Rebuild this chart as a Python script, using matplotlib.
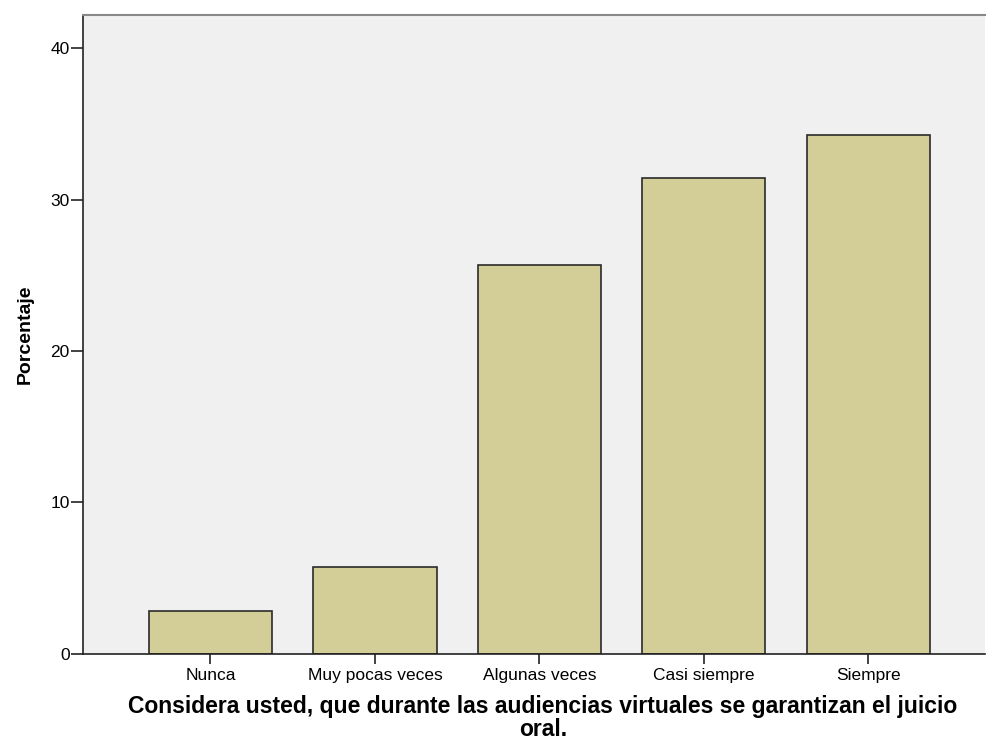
import matplotlib
matplotlib.use("Agg")
from matplotlib import pyplot as plt
import numpy as np

plt.rcParams['font.family'] = ['Liberation Sans', 'DejaVu Sans']

categorias = ["Nunca", "Muy pocas veces", "Algunas veces", "Casi siempre", "Siempre"]
porcentajes = [2.86, 5.71, 25.71, 31.43, 34.29]
yticks = [0, 10, 20, 30, 40]

fig = plt.figure(figsize=(9.88, 7.49), dpi=100)
ax = fig.add_axes([0.084, 0.127, 0.913, 0.853])
ax.set_facecolor('#F0F0F0')

x = np.arange(len(categorias))
ax.bar(x, porcentajes, width=0.75, color='#D3CE97', edgecolor='#2a2a2a', linewidth=1.2, zorder=2)

ax.set_xlim(-0.775, 4.71)
ax.set_ylim(0, 42.2)
ax.set_yticks(yticks)
ax.set_xticks(x)
ax.set_xticklabels(categorias, fontsize=12.5)
ax.tick_params(axis='y', labelsize=12.5, length=8.5, width=1.2, color='#222222', pad=1)
ax.tick_params(axis='x', length=7.5, width=1.2, color='#222222', pad=2.5)

for s in ['left', 'bottom']:
    ax.spines[s].set_color('#222222')
    ax.spines[s].set_linewidth(1.2)
ax.spines['top'].set_color('#888888')
ax.spines['top'].set_linewidth(1.5)
ax.spines['right'].set_visible(False)

ax.set_ylabel("Porcentaje", fontsize=14, fontweight='bold', labelpad=12)
ax.set_xlabel("Considera usted, que durante las audiencias virtuales se garantizan el juicio\noral.",
              fontsize=16.5, fontweight='bold', labelpad=9, linespacing=1.0)
ax.xaxis.label.set_x(0.51)

fig.savefig("out.png", dpi=100)
